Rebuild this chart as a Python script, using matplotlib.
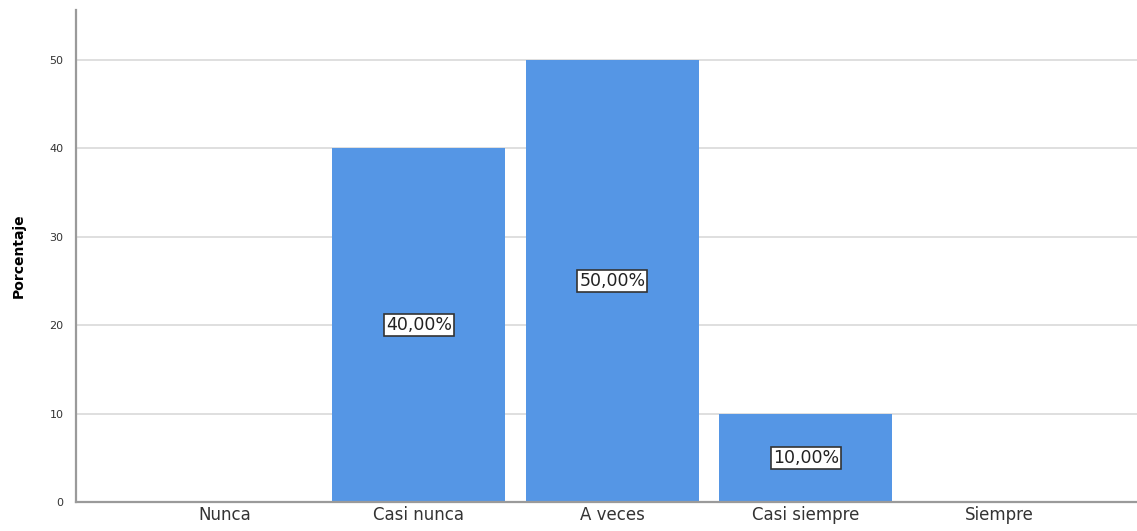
import matplotlib
matplotlib.use('Agg')
import matplotlib.pyplot as plt

# frequency table: answer categories and their percentage
categorias = ['Nunca', 'Casi nunca', 'A veces', 'Casi siempre', 'Siempre']
porcentajes = [0, 40, 50, 10, 0]
etiquetas_y = [0, 10, 20, 30, 40, 50]

bar_color = '#5596e5'
grid_color = '#dcdcdc'
spine_color = '#9a9a9a'

fig = plt.figure(figsize=(11.37, 5.31), dpi=100)
ax = fig.add_axes([76 / 1137, 29 / 531, 1 - 76 / 1137, (502 - 10) / 531])

x = list(range(len(categorias)))
bars = ax.bar(x, porcentajes, width=0.894, color=bar_color, zorder=2)

# value labels in the middle of each non-empty bar
for rect, val in zip(bars, porcentajes):
    if val <= 0:
        continue
    ax.text(rect.get_x() + rect.get_width() / 2, val / 2,
            f'{val:.2f}%'.replace('.', ','),
            ha='center', va='center', fontsize=12.5, color='#222222', zorder=3,
            bbox=dict(boxstyle='square,pad=0.12', facecolor='white',
                      edgecolor='#333333', linewidth=1.2))

ax.set_xlim(-0.77, 4.71)
ax.set_ylim(0, 55.6)
ax.set_xticks(x)
ax.set_xticklabels(categorias, fontsize=12, color='#333333')
ax.set_yticks(etiquetas_y)
ax.set_yticklabels([str(v) for v in etiquetas_y], fontsize=8, color='#333333')
ax.tick_params(axis='both', length=0)
ax.tick_params(axis='y', pad=9)
ax.tick_params(axis='x', pad=3)

ax.yaxis.grid(True, color=grid_color, linewidth=1.3, zorder=0)
ax.set_axisbelow(True)
for side in ('top', 'right'):
    ax.spines[side].set_visible(False)
for side in ('left', 'bottom'):
    ax.spines[side].set_color(spine_color)
    ax.spines[side].set_linewidth(1.6)

ax.set_ylabel('Porcentaje', fontsize=10, color='#000000', labelpad=17,
              fontweight='semibold')

fig.savefig('out.png', dpi=100)
